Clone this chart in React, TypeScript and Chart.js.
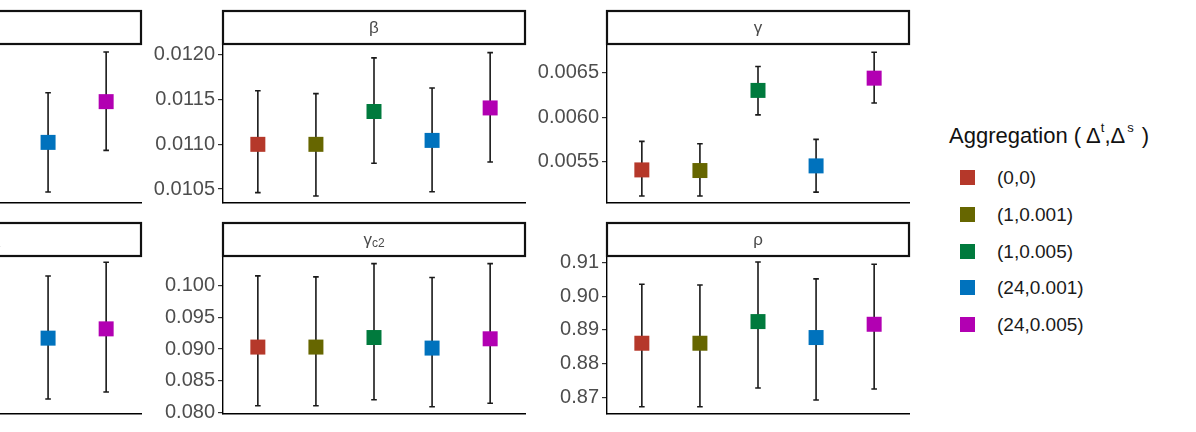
import React, { useEffect, useRef } from "react";
import { Chart, registerables } from "chart.js";

Chart.register(...registerables);

// ---------- data ----------
const aggregations = ["(0,0)", "(1,0.001)", "(1,0.005)", "(24,0.001)", "(24,0.005)"];
const colors = ["#B5382A", "#666600", "#007A3D", "#0072BD", "#B200B2"];

// panel cut off at the left, top row (only the last two levels visible)
const alphaEst = [0.355, 0.356, 0.395, 0.361, 0.402];
const alphaLow = [0.308, 0.309, 0.345, 0.311, 0.353];
const alphaUp = [0.402, 0.403, 0.445, 0.411, 0.452];
const alphaTicks = ["0.32", "0.36", "0.40", "0.44"];

// beta
const betaEst = [0.0110, 0.01100, 0.011367, 0.011044, 0.011407];
const betaLow = [0.01046, 0.010422, 0.010789, 0.01047, 0.010803];
const betaUp = [0.0116, 0.011567, 0.011967, 0.01163, 0.012026];
const betaTicks = ["0.0105", "0.0110", "0.0115", "0.0120"];

// gamma
const gammaEst = [0.005411, 0.005404, 0.0063, 0.005456, 0.006437];
const gammaLow = [0.005119, 0.005119, 0.006026, 0.005163, 0.00616];
const gammaUp = [0.00573, 0.005704, 0.006567, 0.005752, 0.006726];
const gammaTicks = ["0.0055", "0.0060", "0.0065"];

// panel cut off at the left, bottom row
const gc1Est = [0.270, 0.271, 0.283, 0.276, 0.2853];
const gc1Low = [0.205, 0.206, 0.218, 0.215, 0.222];
const gc1Up = [0.335, 0.336, 0.350, 0.3383, 0.352];
const gc1Ticks = ["0.25", "0.30", "0.35"];

// gamma_c2
const gc2Est = [0.09032, 0.09032, 0.09183, 0.09016, 0.09163];
const gc2Low = [0.08104, 0.08104, 0.08199, 0.08088, 0.08142];
const gc2Up = [0.10158, 0.10142, 0.10353, 0.10132, 0.10353];
const gc2Ticks = ["0.080", "0.085", "0.090", "0.095", "0.100"];

// rho
const rhoEst = [0.88606, 0.88606, 0.89249, 0.88775, 0.89169];
const rhoLow = [0.86722, 0.86722, 0.87276, 0.8692, 0.87246];
const rhoUp = [0.90356, 0.90337, 0.91018, 0.90516, 0.9095];
const rhoTicks = ["0.87", "0.88", "0.89", "0.90", "0.91"];

// ---------- layout constants ----------
const FONT = '"Liberation Sans", Arial, sans-serif';
const AXIS_W = 80;
const STRIP_H = 33;
const PAD_TOP = 35;
const PLOT_W = 302;
const RIGHT_PAD = 4;
const BOTTOM_H = 14;

type PanelProps = {
  label: string;
  sub?: string;
  est: number[];
  low: number[];
  up: number[];
  yMin: number;
  yMax: number;
  tickLabels: string[];
  plotLeft: number;
  plotTop: number;
  plotH: number;
};

function Panel(p: PanelProps) {
  const ref = useRef<HTMLCanvasElement>(null);
  const width = AXIS_W + PLOT_W + RIGHT_PAD;
  const height = PAD_TOP + p.plotH + BOTTOM_H;

  useEffect(() => {
    const tickValues = p.tickLabels.map(Number);

    const errorBars = {
      id: "errorBars",
      beforeDatasetsDraw(chart: any) {
        const { ctx } = chart;
        const xs = chart.scales.x;
        const ys = chart.scales.y;
        ctx.save();
        ctx.strokeStyle = "#1a1a1a";
        ctx.lineWidth = 1.6;
        p.est.forEach((_, i) => {
          const x = xs.getPixelForValue(i + 1);
          const y1 = ys.getPixelForValue(p.low[i]);
          const y2 = ys.getPixelForValue(p.up[i]);
          ctx.beginPath();
          ctx.moveTo(x, y1);
          ctx.lineTo(x, y2);
          ctx.moveTo(x - 2.8, y1);
          ctx.lineTo(x + 2.8, y1);
          ctx.moveTo(x - 2.8, y2);
          ctx.lineTo(x + 2.8, y2);
          ctx.stroke();
        });
        ctx.restore();
      },
    };

    const strip = {
      id: "strip",
      afterDraw(chart: any) {
        const { ctx, chartArea: a } = chart;
        const top = a.top - STRIP_H;
        ctx.save();
        ctx.fillStyle = "#ffffff";
        ctx.fillRect(a.left, top, a.right - a.left, STRIP_H);
        ctx.lineWidth = 2.2;
        ctx.strokeStyle = "#111111";
        ctx.strokeRect(a.left, top, a.right - a.left, STRIP_H);
        ctx.fillStyle = "#4a4a4a";
        ctx.textBaseline = "middle";
        const cx = (a.left + a.right) / 2;
        const cy = top + STRIP_H / 2 + 1;
        ctx.font = `17px ${FONT}`;
        const mainW = ctx.measureText(p.label).width;
        let subW = 0;
        if (p.sub) {
          ctx.font = `12px ${FONT}`;
          subW = ctx.measureText(p.sub).width;
        }
        const start = cx - (mainW + subW) / 2;
        ctx.textAlign = "left";
        ctx.font = `17px ${FONT}`;
        ctx.fillText(p.label, start, cy);
        if (p.sub) {
          ctx.font = `12px ${FONT}`;
          ctx.fillText(p.sub, start + mainW, cy + 3);
        }
        ctx.restore();
      },
    };

    const chart = new Chart(ref.current as HTMLCanvasElement, {
      type: "scatter",
      data: {
        labels: aggregations,
        datasets: [
          {
            label: p.label,
            data: p.est.map((v, i) => ({ x: i + 1, y: v })),
            pointStyle: "rect",
            pointRadius: 10.6,
            pointHoverRadius: 10.6,
            pointBackgroundColor: colors,
            pointBorderWidth: 0,
            backgroundColor: colors,
            borderWidth: 0,
          },
        ],
      },
      options: {
        animation: false,
        responsive: false,
        devicePixelRatio: 1,
        events: [],
        layout: {
          padding: { top: PAD_TOP, right: RIGHT_PAD, left: 0, bottom: 0 },
          autoPadding: false,
        },
        plugins: {
          legend: { display: false },
          tooltip: { enabled: false },
          title: { display: false },
        },
        scales: {
          x: {
            type: "linear",
            min: 0.4,
            max: 5.6,
            ticks: { display: false },
            grid: { display: false, drawTicks: false },
            border: { display: true, color: "#000000", width: 1.4 },
            afterFit: (s: any) => {
              s.height = BOTTOM_H;
            },
          },
          y: {
            type: "linear",
            min: p.yMin,
            max: p.yMax,
            afterBuildTicks: (s: any) => {
              s.ticks = tickValues.map((v) => ({ value: v }));
            },
            afterFit: (s: any) => {
              s.width = AXIS_W;
            },
            ticks: {
              font: { family: FONT, size: 20 },
              color: "#4D4D4D",
              padding: 3,
              callback: (v: any) => {
                const idx = tickValues.findIndex((t) => Math.abs(t - Number(v)) < 1e-9);
                return idx >= 0 ? p.tickLabels[idx] : "";
              },
            },
            grid: {
              display: true,
              drawOnChartArea: false,
              drawTicks: true,
              tickLength: 5,
              color: "#333333",
              tickColor: "#333333",
              lineWidth: 1.2,
            },
            border: { display: true, color: "#000000", width: 1.4 },
          },
        },
      } as any,
      plugins: [errorBars, strip],
    });
    return () => chart.destroy();
  }, []);

  return (
    <canvas
      ref={ref}
      width={width}
      height={height}
      style={{
        position: "absolute",
        left: p.plotLeft - AXIS_W,
        top: p.plotTop - PAD_TOP,
        width,
        height,
      }}
    />
  );
}

function Legend() {
  return (
    <div style={{ position: "absolute", left: 0, top: 0, fontFamily: FONT }}>
      <div
        style={{
          position: "absolute",
          left: 949,
          top: 123,
          fontSize: 22,
          lineHeight: "26px",
          color: "#111",
          whiteSpace: "nowrap",
        }}
      >
        Aggregation (<span style={{ marginLeft: 5 }}>Δ</span>
        <span style={{ fontSize: 13, position: "relative", top: -11 }}>t</span>
        ,Δ
        <span style={{ fontSize: 13, position: "relative", top: -11, marginLeft: 2 }}>s</span>
        <span style={{ marginLeft: 8 }}>)</span>
      </div>
      {aggregations.map((a, i) => (
        <div key={a}>
          <div
            style={{
              position: "absolute",
              left: 960,
              top: 170 + i * 36.75,
              width: 15,
              height: 15,
              background: colors[i],
            }}
          />
          <div
            style={{
              position: "absolute",
              left: 997,
              top: 166 + i * 36.75,
              fontSize: 19,
              lineHeight: "24px",
              color: "#1a1a1a",
              whiteSpace: "nowrap",
            }}
          >
            {a}
          </div>
        </div>
      ))}
    </div>
  );
}

export default function App() {
  return (
    <div
      style={{
        position: "fixed",
        left: 0,
        top: 0,
        width: 1196,
        height: 432,
        overflow: "hidden",
        background: "#ffffff",
      }}
    >
      <Panel label="α" est={alphaEst} low={alphaLow} up={alphaUp} yMin={0.3} yMax={0.46}
        tickLabels={alphaTicks} plotLeft={-161} plotTop={44} plotH={160} />
      <Panel label="β" est={betaEst} low={betaLow} up={betaUp} yMin={0.010344} yMax={0.012122}
        tickLabels={betaTicks} plotLeft={223} plotTop={44} plotH={160} />
      <Panel label="γ" est={gammaEst} low={gammaLow} up={gammaUp} yMin={0.005041} yMax={0.006819}
        tickLabels={gammaTicks} plotLeft={607} plotTop={44} plotH={160} />
      <Panel label="γ" sub="c1" est={gc1Est} low={gc1Low} up={gc1Up} yMin={0.2} yMax={0.3583}
        tickLabels={gc1Ticks} plotLeft={-161} plotTop={256} plotH={159} />
      <Panel label="γ" sub="c2" est={gc2Est} low={gc2Low} up={gc2Up} yMin={0.07973} yMax={0.10473}
        tickLabels={gc2Ticks} plotLeft={223} plotTop={256} plotH={159} />
      <Panel label="ρ" est={rhoEst} low={rhoLow} up={rhoUp} yMin={0.86505} yMax={0.91196}
        tickLabels={rhoTicks} plotLeft={607} plotTop={256} plotH={159} />
      <Legend />
    </div>
  );
}
